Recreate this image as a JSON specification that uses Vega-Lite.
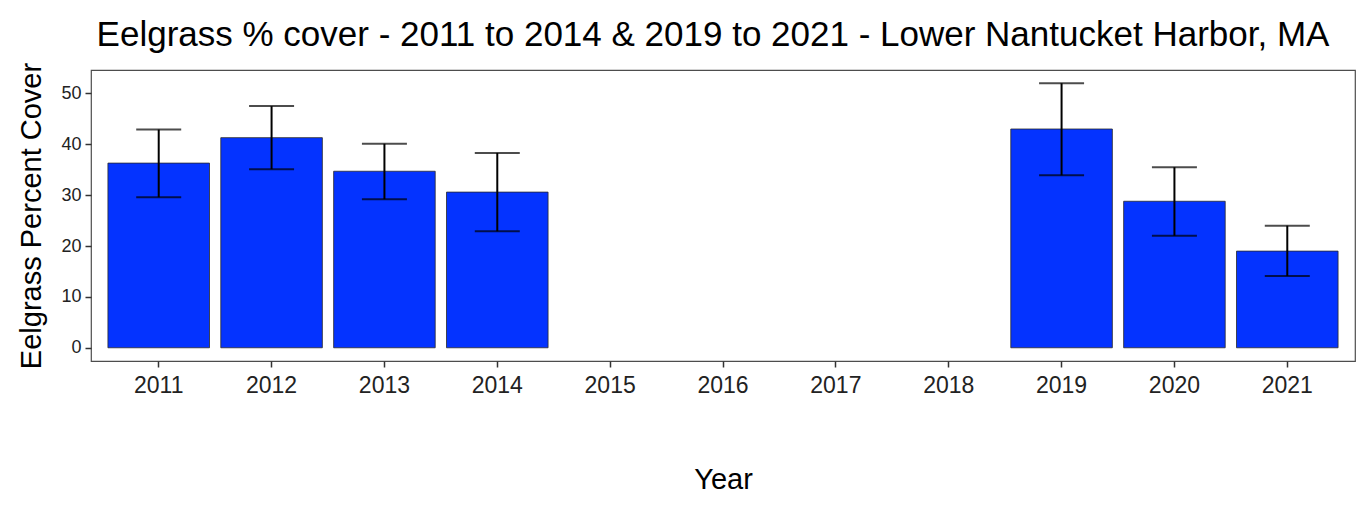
{
  "$schema": "https://vega.github.io/schema/vega-lite/v6.json",
  "width": 1264,
  "height": 291,
  "autosize": {"type": "none"},
  "padding": {"left": 91, "top": 70, "right": 17, "bottom": 147},
  "background": "white",
  "title": {
    "text": "Eelgrass % cover - 2011 to 2014 & 2019 to 2021 - Lower Nantucket Harbor, MA",
    "font": "Liberation Sans",
    "fontSize": 35,
    "fontWeight": "normal",
    "color": "#000000",
    "anchor": "middle",
    "baseline": "alphabetic",
    "offset": -19,
    "dx": -10
  },
  "config": {
    "view": {"stroke": "#4d4d4d", "strokeWidth": 1.2},
    "font": "Liberation Sans"
  },
  "data": {
    "values": [
      {"Year": "2011", "cover": 36.3, "lo": 29.6, "hi": 42.9},
      {"Year": "2012", "cover": 41.3, "lo": 35.1, "hi": 47.5},
      {"Year": "2013", "cover": 34.7, "lo": 29.2, "hi": 40.1},
      {"Year": "2014", "cover": 30.6, "lo": 22.9, "hi": 38.3},
      {"Year": "2019", "cover": 43.0, "lo": 33.9, "hi": 52.0},
      {"Year": "2020", "cover": 28.8, "lo": 22.0, "hi": 35.5},
      {"Year": "2021", "cover": 19.0, "lo": 14.1, "hi": 24.0}
    ]
  },
  "encoding": {
    "x": {
      "field": "Year",
      "type": "ordinal",
      "scale": {
        "domain": ["2011","2012","2013","2014","2015","2016","2017","2018","2019","2020","2021"],
        "paddingInner": 0.1,
        "paddingOuter": 0.15
      },
      "axis": {
        "title": "Year",
        "titleFont": "Liberation Sans",
        "titleFontSize": 29,
        "titleFontWeight": "normal",
        "titleColor": "#000000",
        "titlePadding": 68,
        "labelAngle": 0,
        "labelFont": "Liberation Sans",
        "labelFontSize": 23,
        "labelColor": "#222222",
        "labelPadding": 7,
        "tickSize": 6,
        "tickWidth": 1.5,
        "tickColor": "#333333",
        "domain": false,
        "grid": false
      }
    }
  },
  "layer": [
    {
      "mark": {"type": "bar", "color": "#0433ff", "stroke": "#2a2a2a", "strokeWidth": 0.8},
      "encoding": {
        "y": {
          "field": "cover",
          "type": "quantitative",
          "scale": {"domain": [-2.6, 54.6], "nice": false, "zero": false},
          "axis": {
            "title": "Eelgrass Percent Cover",
            "titleFont": "Liberation Sans",
            "titleFontSize": 29,
            "titleFontWeight": "normal",
            "titleColor": "#000000",
            "titlePadding": 14,
            "values": [0, 10, 20, 30, 40, 50],
            "labelFont": "Liberation Sans",
            "labelFontSize": 18,
            "labelColor": "#222222",
            "labelPadding": 4,
            "tickSize": 6,
            "tickWidth": 1.5,
            "tickColor": "#333333",
            "domain": false,
            "grid": false
          }
        }
      }
    },
    {
      "mark": {"type": "rule", "color": "#000000", "strokeWidth": 2},
      "encoding": {
        "y": {"field": "lo", "type": "quantitative"},
        "y2": {"field": "hi"}
      }
    },
    {
      "mark": {"type": "tick", "color": "#000000", "thickness": 2, "size": 45},
      "encoding": {
        "y": {"field": "lo", "type": "quantitative"}
      }
    },
    {
      "mark": {"type": "tick", "color": "#000000", "thickness": 2, "size": 45},
      "encoding": {
        "y": {"field": "hi", "type": "quantitative"}
      }
    }
  ]
}
